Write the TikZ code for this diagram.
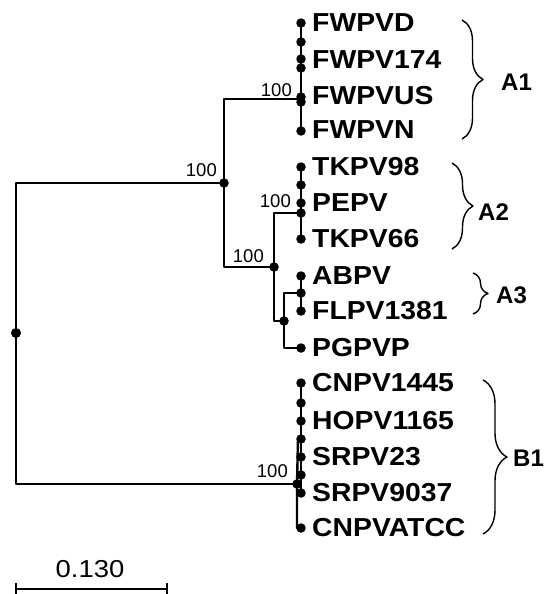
\documentclass[tikz,border=0pt]{standalone}
\usepackage{fontspec}
\usepackage{graphicx}
\setmainfont{Liberation Sans}
\usetikzlibrary{decorations.pathreplacing}
\newcommand{\lf}[1]{\scalebox{1.09}[1]{#1}}
\begin{document}
\begin{tikzpicture}[x=1pt,y=-1pt,line width=2.4pt,line join=round,
  dot/.style={circle,fill=black,inner sep=0pt,minimum size=9.5pt},
  rootdot/.style={circle,fill=black,inner sep=0pt,minimum size=10pt},
  leaf/.style={anchor=west,inner sep=0pt,font=\fontsize{26}{30}\selectfont\bfseries},
  boot/.style={anchor=east,inner sep=0pt,font=\fontsize{18.5}{21}\selectfont},
  grp/.style={anchor=west,inner sep=0pt,font=\fontsize{24}{28}\selectfont\bfseries},
  brc/.style={line width=1.4pt,decorate,decoration={brace,amplitude=#1}}]
\useasboundingbox (0,0) rectangle (546,594);
% internal nodes
\coordinate (R) at (16,333);
\coordinate (A) at (224,183);
\coordinate (FW) at (301,99);
\coordinate (X) at (274,267);
\coordinate (A2) at (301,213);
\coordinate (Y) at (284,321);
\coordinate (A3) at (301,293);
\coordinate (B) at (297,484);
\coordinate (Bi) at (298,439);
% leaves
\coordinate (l1) at (301,23);
\coordinate (l2) at (301,60);
\coordinate (l3) at (301,97);
\coordinate (l4) at (301,131);
\coordinate (l5) at (301,167);
\coordinate (l6) at (301,203);
\coordinate (l7) at (301,239);
\coordinate (l8) at (301,276);
\coordinate (l9) at (301,311);
\coordinate (l10) at (301,348);
\coordinate (l11) at (301,383);
\coordinate (l12) at (301,421);
\coordinate (l13) at (301,457);
\coordinate (l14) at (301,493);
\coordinate (l15) at (301,528);
% branches
\draw (R) |- (A);
\draw (R) |- (B);
\draw (A) |- (FW);
\draw (A) |- (X);
\draw (X) |- (A2);
\draw (X) |- (Y);
\draw (Y) |- (A3);
\draw (Y) |- (l10);
\draw (l1) -- (l4);
\draw (l5) -- (l7);
\draw (l8) -- (l9);
\draw (l11) -- (l14);
\draw (Bi) -- (B) |- (l15);
% dots
\foreach \y in {23,42,59,68,97,102,131,167,185,203,213,239,276,293,311,348,383,403,421,439,457,475,493,528}
  \node[dot] at (301,\y) {};
\node[dot] (nA) at (A) {};
\node[dot] (nX) at (X) {};
\node[dot] (nY) at (Y) {};
\node[dot] (nB) at (B) {};
\node[rootdot] (nR) at (R) {};
% leaf labels
\node[leaf] (t1) at (311,23) {\lf{FWPVD}};
\node[leaf] (t2) at (311,60) {\lf{FWPV174}};
\node[leaf] (t3) at (311,96) {\lf{FWPVUS}};
\node[leaf] (t4) at (311,130) {\lf{FWPVN}};
\node[leaf] (t5) at (311,167) {\lf{TKPV98}};
\node[leaf] (t6) at (311,203) {\lf{PEPV}};
\node[leaf] (t7) at (311,239) {\lf{TKPV66}};
\node[leaf] (t8) at (311,276) {\lf{ABPV}};
\node[leaf] (t9) at (311,311) {\lf{FLPV1381}};
\node[leaf] (t10) at (311,348) {\lf{PGPVP}};
\node[leaf] (t11) at (311,383) {\lf{CNPV1445}};
\node[leaf] (t12) at (311,421) {\lf{HOPV1165}};
\node[leaf] (t13) at (311,457) {\lf{SRPV23}};
\node[leaf] (t14) at (311,493) {\lf{SRPV9037}};
\node[leaf] (t15) at (311,528) {\lf{CNPVATCC}};
% bootstrap
\node[boot] (b1) at (293,90) {100};
\node[boot] (b2) at (218,170) {100};
\node[boot] (b3) at (292,201.5) {100};
\node[boot] (b4) at (265,256.5) {100};
\node[boot] (b5) at (289,471.5) {100};
% braces
\draw[brc=21pt] (462,20) -- (462,139);
\draw[brc=21pt] (452,163) -- (452,249);
\draw[brc=15pt] (473,273) -- (473,314);
\draw[brc=24pt] (483,380) -- (483,534);
\node[grp] (g1) at (500,82) {A1};
\node[grp] (g2) at (477,212) {A2};
\node[grp] (g3) at (495,295) {A3};
\node[grp] (g4) at (512,458) {B1};
% scale bar
\coordinate (s1) at (16,589);
\coordinate (s2) at (167,589);
\draw (s1) -- (s2);
\draw ([yshift=-7pt]s1) -- ([yshift=6pt]s1);
\draw ([yshift=-7pt]s2) -- ([yshift=6pt]s2);
\node[inner sep=0pt,font=\fontsize{24.5}{28}\selectfont] (sc) at (90,569) {\scalebox{1.12}[1]{0.130}};
\end{tikzpicture}
\end{document}
